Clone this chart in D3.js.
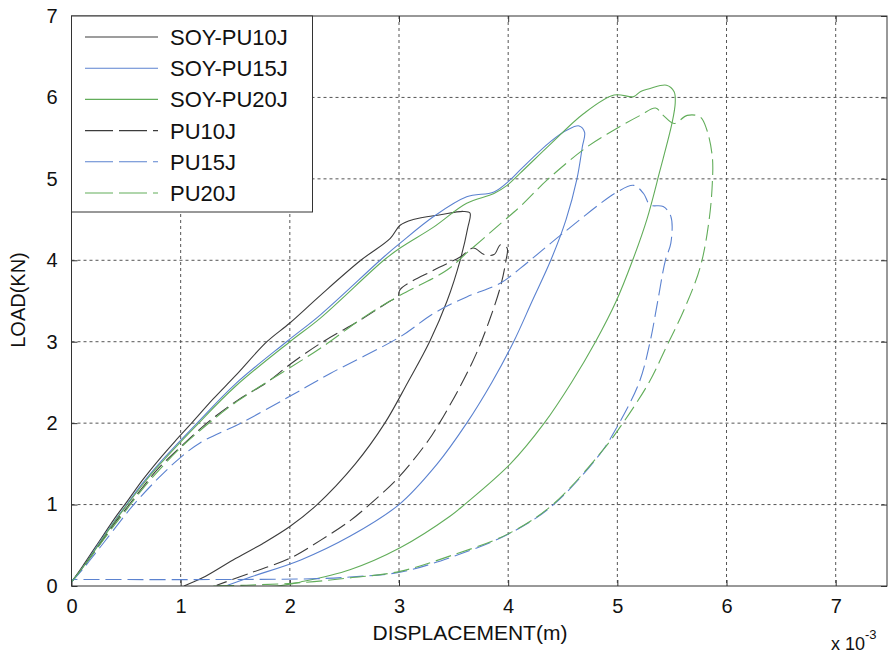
<!DOCTYPE html>
<html>
<head>
<meta charset="utf-8">
<script src="https://cdn.jsdelivr.net/npm/d3@7"></script>
<style>
  html, body { margin: 0; padding: 0; background: #fff; }
  svg { display: block; font-family: "Liberation Sans", Arial, sans-serif; }
</style>
</head>
<body>
<svg id="chart" width="894" height="656"></svg>
<script>
// ---- data (displacement in 1e-3 m, load in kN) ----
const seriesNames = ["SOY-PU10J", "SOY-PU15J", "SOY-PU20J", "PU10J", "PU15J", "PU20J"];
const xTicks = [0, 1, 2, 3, 4, 5, 6, 7];
const yTicks = [0, 1, 2, 3, 4, 5, 6, 7];

const soyPu10j = [[0,0.05],[0.1,0.24],[0.2,0.44],[0.3,0.64],[0.4,0.84],[0.5,1.02],[0.65,1.3],[0.8,1.55],[0.95,1.78],[1.1,2.0],[1.3,2.3],[1.5,2.58],[1.79,3.0],[2.0,3.23],[2.28,3.57],[2.65,4.0],[2.92,4.27],[3.01,4.43],[3.13,4.5],[3.38,4.56],[3.59,4.6],[3.65,4.58],[3.63,4.4],[3.56,4.0],[3.44,3.5],[3.28,3.0],[3.08,2.5],[2.87,2.0],[2.6,1.5],[2.25,1.0],[2.0,0.73],[1.75,0.52],[1.48,0.32],[1.2,0.1],[1.03,0]];
const soyPu15j = [[0,0.05],[0.1,0.22],[0.2,0.42],[0.3,0.62],[0.4,0.81],[0.5,0.99],[0.65,1.26],[0.8,1.5],[1.15,2.0],[1.5,2.48],[1.97,3.0],[2.28,3.33],[2.86,4.04],[3.01,4.21],[3.32,4.54],[3.62,4.78],[3.87,4.84],[4.02,4.99],[4.11,5.11],[4.39,5.46],[4.54,5.6],[4.65,5.65],[4.7,5.57],[4.68,5.4],[4.63,5.0],[4.53,4.5],[4.39,4.0],[4.22,3.5],[4.05,3.0],[3.85,2.5],[3.62,2.0],[3.35,1.5],[3.0,1.0],[2.55,0.61],[2.1,0.32],[1.64,0.11],[1.43,0.01]];
const soyPu20j = [[0,0.05],[0.1,0.22],[0.2,0.41],[0.3,0.61],[0.4,0.8],[0.5,0.98],[0.65,1.24],[0.8,1.48],[1.15,1.98],[1.5,2.45],[2.0,3.0],[2.28,3.29],[2.86,4.0],[3.01,4.15],[3.32,4.41],[3.62,4.7],[3.87,4.82],[3.99,4.92],[4.11,5.07],[4.39,5.43],[4.69,5.8],[4.97,6.03],[5.15,6.01],[5.21,6.07],[5.3,6.11],[5.45,6.15],[5.52,6.07],[5.53,5.93],[5.5,5.68],[5.39,5.1],[5.27,4.5],[5.14,4.0],[4.99,3.5],[4.8,3.0],[4.58,2.5],[4.33,2.0],[4.02,1.5],[3.6,1.0],[3.47,0.86],[3.01,0.47],[2.55,0.2],[2.1,0.05],[1.88,0],[1.3,0]];
const pu10j = [[0,0.05],[0.1,0.22],[0.2,0.4],[0.3,0.59],[0.4,0.78],[0.5,0.95],[0.65,1.21],[0.8,1.45],[1.0,1.71],[1.24,2.0],[1.52,2.28],[1.79,2.5],[2.0,2.72],[2.28,2.98],[2.65,3.27],[2.92,3.5],[2.99,3.55],[3.01,3.64],[3.32,3.88],[3.56,4.04],[3.68,4.15],[3.78,4.07],[3.87,4.07],[3.93,4.19],[3.99,4.15],[3.98,4.0],[3.93,3.68],[3.83,3.27],[3.71,2.86],[3.56,2.45],[3.37,2.0],[3.27,1.79],[3.0,1.34],[2.73,1.0],[2.55,0.8],[2.28,0.56],[2.0,0.34],[1.64,0.16],[1.33,0.01]];
const pu15j = [[0,0.05],[0.1,0.2],[0.2,0.37],[0.3,0.54],[0.45,0.8],[0.57,1.0],[0.8,1.33],[1.0,1.58],[1.18,1.76],[1.55,2.0],[2.0,2.33],[2.37,2.61],[3.01,3.06],[3.32,3.35],[3.62,3.55],[3.93,3.72],[4.11,3.9],[4.5,4.33],[5.0,4.84],[5.15,4.92],[5.24,4.82],[5.3,4.68],[5.42,4.66],[5.49,4.54],[5.49,4.21],[5.44,4.0],[5.37,3.5],[5.3,3.0],[5.2,2.5],[5.0,1.96],[4.84,1.62],[4.39,0.97],[3.99,0.63],[3.47,0.35],[3.01,0.17],[2.55,0.11],[2.25,0.09],[1.5,0.08],[0,0.08]];
const pu20j = [[0,0.05],[0.1,0.22],[0.2,0.4],[0.3,0.58],[0.4,0.76],[0.5,0.93],[0.65,1.19],[0.8,1.42],[1.0,1.7],[1.24,1.98],[1.52,2.27],[2.0,2.68],[2.28,2.92],[2.71,3.33],[3.01,3.57],[3.44,3.88],[3.62,4.09],[3.93,4.45],[4.11,4.66],[4.36,4.99],[4.72,5.39],[4.97,5.6],[5.21,5.78],[5.35,5.87],[5.42,5.78],[5.52,5.68],[5.64,5.78],[5.76,5.76],[5.82,5.6],[5.87,5.27],[5.87,4.95],[5.84,4.49],[5.76,3.92],[5.61,3.39],[5.45,2.94],[5.29,2.5],[5.03,1.96],[4.85,1.64],[4.4,0.99],[4.0,0.64],[3.47,0.37],[3.01,0.18],[2.55,0.1],[2.1,0.04],[1.6,0.01],[1.3,0]];

const seriesData = [soyPu10j, soyPu15j, soyPu20j, pu10j, pu15j, pu20j];
const seriesColors = ["#3c3c3c", "#5b82d0", "#62ad5a", "#3c3c3c", "#5b82d0", "#62ad5a"];
const seriesDashed = [false, false, false, true, true, true];

// ---- layout ----
const svg = d3.select("#chart");
const W = 894, H = 656;
const pLeft = 71.5, pRight = 887, pTop = 16, pBottom = 586;

svg.append("rect").attr("width", W).attr("height", H).attr("fill", "#fff");

const x = d3.scaleLinear().domain([0, 7.47]).range([pLeft, pRight]);
const y = d3.scaleLinear().domain([0, 7]).range([pBottom, pTop]);

const frameColor = "#333";
const gridColor = "#555";

// grid
const grid = svg.append("g");
grid.selectAll(".gx").data(xTicks.filter(d => d > 0)).join("line")
  .attr("x1", d => x(d)).attr("x2", d => x(d))
  .attr("y1", pTop).attr("y2", pBottom)
  .attr("stroke", gridColor).attr("stroke-width", 1).attr("stroke-dasharray", "3,3");
grid.selectAll(".gy").data(yTicks.filter(d => d > 0 && d < 7)).join("line")
  .attr("x1", pLeft).attr("x2", pRight)
  .attr("y1", d => y(d)).attr("y2", d => y(d))
  .attr("stroke", gridColor).attr("stroke-width", 1).attr("stroke-dasharray", "3,3");

// axes (D3 axes with inward ticks)
const axB = d3.axisBottom(x).tickValues(xTicks).tickSizeInner(-6).tickSizeOuter(0).tickPadding(13).tickFormat(d3.format("d"));
const axL = d3.axisLeft(y).tickValues(yTicks).tickSizeInner(-6).tickSizeOuter(0).tickPadding(14).tickFormat(d3.format("d"));
const axT = d3.axisTop(x).tickValues(xTicks).tickSizeInner(-6).tickSizeOuter(0).tickFormat("");
const axR = d3.axisRight(y).tickValues(yTicks).tickSizeInner(-6).tickSizeOuter(0).tickFormat("");

function styleAxis(g) {
  g.select(".domain").remove();
  g.selectAll("line").attr("stroke", frameColor);
  g.selectAll("text").attr("fill", "#111").attr("font-size", 20)
    .attr("font-family", "'Liberation Sans', Arial, sans-serif");
}
svg.append("g").attr("transform", `translate(0,${pBottom})`).call(axB).call(styleAxis);
svg.append("g").attr("transform", `translate(${pLeft},0)`).call(axL).call(styleAxis);
svg.append("g").attr("transform", `translate(0,${pTop})`).call(axT).call(styleAxis);
svg.append("g").attr("transform", `translate(${pRight},0)`).call(axR).call(styleAxis);

// curves
svg.append("clipPath").attr("id", "plotclip").append("rect")
  .attr("x", pLeft).attr("y", pTop).attr("width", pRight - pLeft).attr("height", pBottom - pTop);
const line = d3.line().x(d => x(d[0])).y(d => y(d[1])).curve(d3.curveCatmullRom.alpha(0.5));
const curves = svg.append("g").attr("clip-path", "url(#plotclip)");
seriesData.forEach((data, i) => {
  curves.append("path")
    .attr("d", line(data))
    .attr("fill", "none")
    .attr("stroke", seriesColors[i])
    .attr("stroke-width", 1.1)
    .attr("stroke-dasharray", seriesDashed[i] ? "16,6" : null);
});

// frame
svg.append("rect").attr("x", pLeft).attr("y", pTop).attr("width", pRight - pLeft).attr("height", pBottom - pTop)
  .attr("fill", "none").attr("stroke", frameColor).attr("stroke-width", 1);

// legend
const lg = svg.append("g");
lg.append("rect").attr("x", pLeft).attr("y", pTop).attr("width", 312.5 - pLeft).attr("height", 212 - pTop)
  .attr("fill", "#fff").attr("stroke", frameColor).attr("stroke-width", 1);
seriesNames.forEach((name, i) => {
  const yy = 37 + i * 31.2;
  lg.append("line").attr("x1", 85).attr("x2", 158).attr("y1", yy).attr("y2", yy)
    .attr("stroke", seriesColors[i]).attr("stroke-width", 1.1)
    .attr("stroke-dasharray", seriesDashed[i] ? "28,6" : null);
  lg.append("text").attr("x", 170).attr("y", yy).attr("dy", "0.36em")
    .attr("font-size", 22).attr("fill", "#111").text(name);
});

// axis titles
svg.append("text").attr("x", 470).attr("y", 640).attr("text-anchor", "middle")
  .attr("font-size", 21).attr("fill", "#111").text("DISPLACEMENT(m)");
svg.append("text").attr("transform", "translate(25,300) rotate(-90)").attr("text-anchor", "middle")
  .attr("font-size", 20).attr("fill", "#111").text("LOAD(KN)");
const ex = svg.append("text").attr("x", 831).attr("y", 650).attr("font-size", 18).attr("fill", "#111");
ex.append("tspan").text("x 10");
ex.append("tspan").attr("dy", -11).attr("font-size", 13).text("-3");
</script>
</body>
</html>
